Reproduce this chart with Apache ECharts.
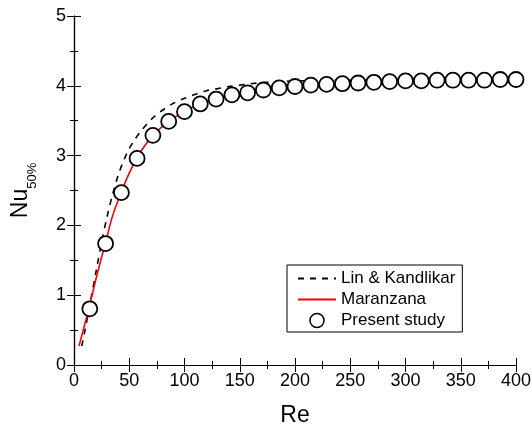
<!DOCTYPE html>
<html>
<head>
<meta charset="utf-8">
<script src="https://cdn.jsdelivr.net/npm/echarts@6/dist/echarts.min.js"></script>
<style>
html,body{margin:0;padding:0;background:#fff;}
#c{width:532px;height:427px;}
</style>
</head>
<body>
<div id="c"></div>
<script>
// Lin & Kandlikar (dashed)
var reLin = [7, 10, 15, 20, 25, 30, 35, 40, 45, 50, 55, 60, 70, 80, 90, 100, 110, 120, 130, 140, 150, 160, 175, 200, 250, 300, 350, 400];
var nuLin = [0.27, 0.50, 0.92, 1.34, 1.76, 2.13, 2.45, 2.72, 2.93, 3.10, 3.23, 3.34, 3.52, 3.65, 3.75, 3.82, 3.88, 3.93, 3.96, 3.99, 4.01, 4.03, 4.05, 4.07, 4.08, 4.09, 4.09, 4.09];
// Maranzana (red)
var reMar = [4.5, 10, 14.3, 20, 28.6, 35, 42.9, 50, 57.1, 64, 71.4, 85.7, 100, 114.3, 128.6, 142.9, 157.1, 171.4, 200, 250, 300, 350, 400];
var nuMar = [0.27, 0.60, 0.86, 1.24, 1.76, 2.14, 2.48, 2.75, 2.97, 3.14, 3.29, 3.49, 3.63, 3.74, 3.81, 3.87, 3.90, 3.94, 3.99, 4.04, 4.07, 4.08, 4.09];
// Present study (circles)
var reStudy = [14.3, 28.6, 42.9, 57.1, 71.4, 85.7, 100, 114.3, 128.6, 142.9, 157.1, 171.4, 185.7, 200, 214.3, 228.6, 242.9, 257.1, 271.4, 285.7, 300, 314.3, 328.6, 342.9, 357.1, 371.4, 385.7, 400];
var nuStudy = [0.805, 1.74, 2.47, 2.96, 3.29, 3.49, 3.63, 3.74, 3.81, 3.87, 3.90, 3.94, 3.97, 3.99, 4.01, 4.02, 4.03, 4.04, 4.05, 4.06, 4.07, 4.07, 4.08, 4.08, 4.08, 4.08, 4.09, 4.09];
var xTicks = {min: 0, max: 400, interval: 50};
var yTicks = {min: 0, max: 5, interval: 1};

function zip(a, b) { return a.map(function (v, i) { return [v, b[i]]; }); }

var FONT = 'Liberation Sans';
var axisCommon = {
  axisLine: {show: true, lineStyle: {color: '#000', width: 1.2}},
  axisTick: {show: true, inside: true, length: 7, lineStyle: {color: '#000', width: 1}},
  minorTick: {show: true, splitNumber: 2, length: 4, lineStyle: {color: '#000', width: 1}},
  splitLine: {show: false},
  minorSplitLine: {show: false}
};
function ax(extra) { return Object.assign({}, JSON.parse(JSON.stringify(axisCommon)), extra); }

var chart = echarts.init(document.getElementById('c'), null, {renderer: 'canvas'});
chart.setOption({
  backgroundColor: '#fff',
  animation: false,
  textStyle: {fontFamily: FONT},
  grid: {left: 74, right: 16, top: 16, bottom: 62, containLabel: false, outerBoundsMode: 'none'},
  legend: {
    orient: 'vertical',
    left: 287, top: 265,
    padding: [5, 7, 3, 10],
    itemWidth: 38, itemHeight: 14, itemGap: 4,
    backgroundColor: '#fff',
    borderColor: '#000', borderWidth: 1, borderRadius: 0,
    textStyle: {fontFamily: FONT, fontSize: 17, color: '#000', lineHeight: 17},
    data: [
      {name: 'Lin & Kandlikar', itemStyle: {opacity: 0}},
      {name: 'Maranzana', itemStyle: {opacity: 0}},
      {name: 'Present study', icon: 'circle', itemStyle: {color: '#fff', borderColor: '#000', borderWidth: 1.5}}
    ]
  },
  xAxis: [
    ax({type: 'value', position: 'bottom', min: xTicks.min, max: xTicks.max, interval: xTicks.interval,
      axisLabel: {fontFamily: FONT, fontSize: 18, color: '#000', margin: 7},
      name: 'Re', nameLocation: 'middle', nameGap: 39,
      nameTextStyle: {fontFamily: FONT, fontSize: 23, color: '#000'}}),
    ax({type: 'value', position: 'top', min: xTicks.min, max: xTicks.max, interval: xTicks.interval,
      axisLabel: {show: false}})
  ],
  yAxis: [
    ax({type: 'value', position: 'left', min: yTicks.min, max: yTicks.max, interval: yTicks.interval,
      axisLabel: {fontFamily: FONT, fontSize: 18, color: '#000', margin: 8},
      name: '{a|Nu}{b|50%}', nameLocation: 'middle', nameGap: 40, nameRotate: 90,
      nameTextStyle: {fontFamily: FONT, color: '#000',
        rich: {
          a: {fontFamily: FONT, fontSize: 23, color: '#000', lineHeight: 26, verticalAlign: 'middle'},
          b: {fontFamily: FONT, fontSize: 13, color: '#000', lineHeight: 13, verticalAlign: 'middle', padding: [22, 0, 0, 0]}
        }}}),
    ax({type: 'value', position: 'right', min: yTicks.min, max: yTicks.max, interval: yTicks.interval,
      axisLabel: {show: false}})
  ],
  series: [
    {
      name: 'Lin & Kandlikar', type: 'line', xAxisIndex: 0, yAxisIndex: 0,
      data: zip(reLin, nuLin), smooth: 0.3, symbol: 'circle', showSymbol: false,
      lineStyle: {color: '#000', width: 1.6, type: [6, 6]},
      itemStyle: {color: '#000'}, z: 2
    },
    {
      name: 'Maranzana', type: 'line', xAxisIndex: 0, yAxisIndex: 0,
      data: zip(reMar, nuMar), smooth: 0.3, symbol: 'circle', showSymbol: false,
      lineStyle: {color: '#ff0000', width: 1.6},
      itemStyle: {color: '#ff0000'}, z: 3
    },
    {
      name: 'Present study', type: 'scatter', xAxisIndex: 0, yAxisIndex: 0,
      data: zip(reStudy, nuStudy), symbol: 'circle', symbolSize: 15,
      itemStyle: {color: '#fff', borderColor: '#000', borderWidth: 1.8, opacity: 1}, z: 4
    }
  ]
});
</script>
</body>
</html>
